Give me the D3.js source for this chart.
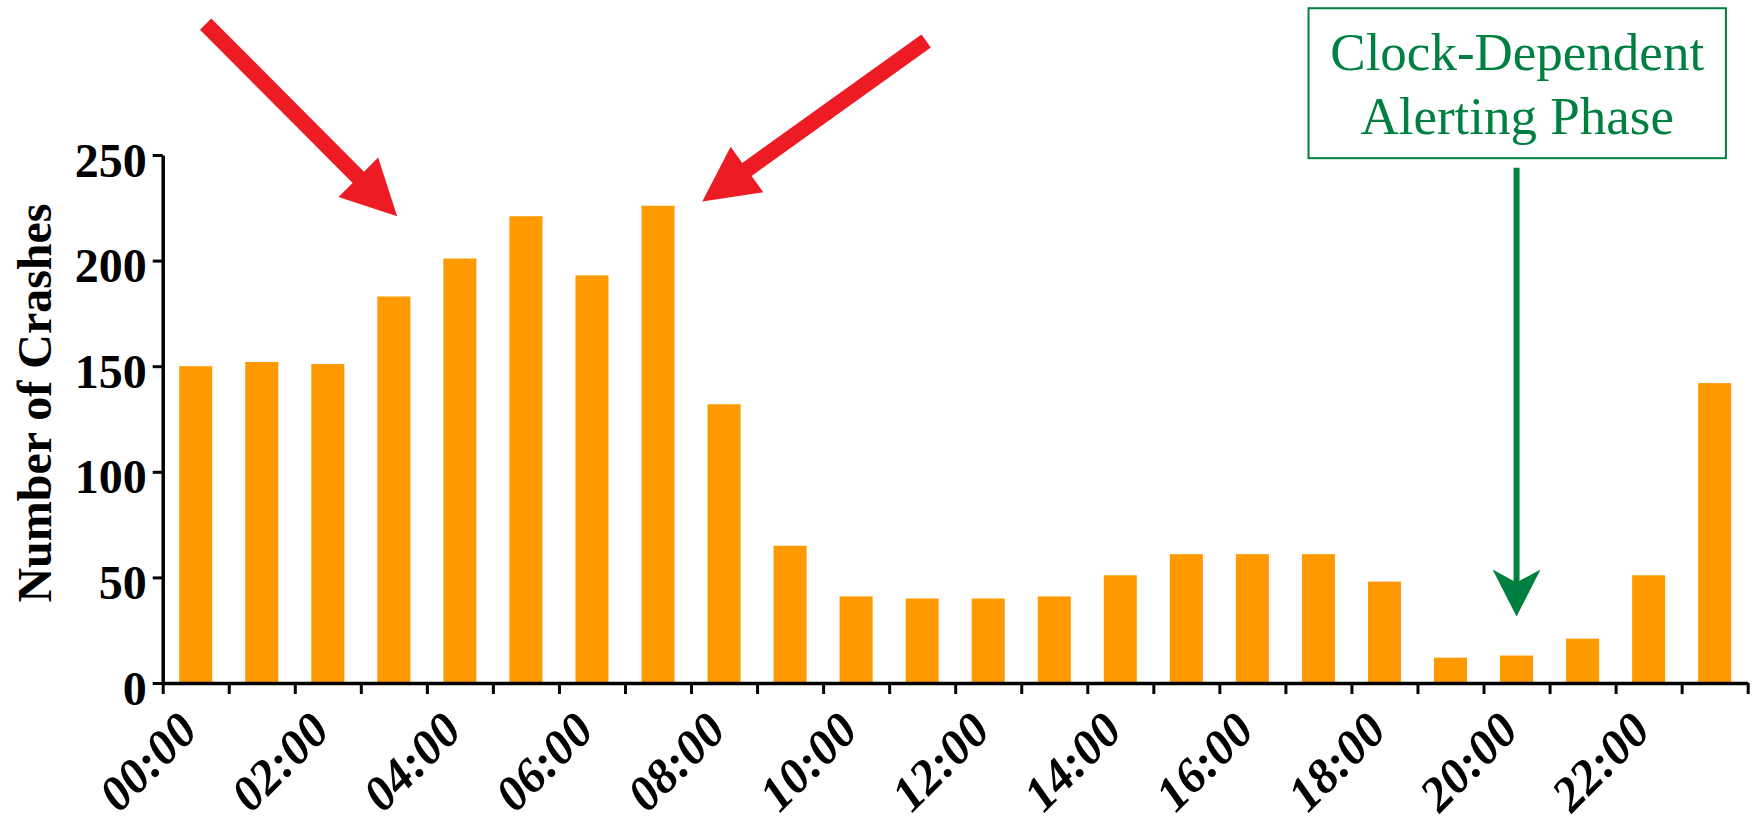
<!DOCTYPE html>
<html>
<head>
<meta charset="utf-8">
<script src="https://cdn.jsdelivr.net/npm/d3@7"></script>
<style>
  html, body { margin: 0; padding: 0; background: #fff; }
  svg { display: block; }
</style>
</head>
<body>
<script>
// Crashes by hour of day
const hours = ["00:00","01:00","02:00","03:00","04:00","05:00","06:00","07:00",
               "08:00","09:00","10:00","11:00","12:00","13:00","14:00","15:00",
               "16:00","17:00","18:00","19:00","20:00","21:00","22:00","23:00"];
const crashes = [150, 152, 151, 183, 201, 221, 193, 226,
                 132, 65, 41, 40, 40, 41, 51, 61,
                 61, 61, 48, 12, 13, 21, 51, 142];
const yTicks = [0, 50, 100, 150, 200, 250];
const xTickLabels = ["00:00","02:00","04:00","06:00","08:00","10:00",
                     "12:00","14:00","16:00","18:00","20:00","22:00"];
const yTitle = "Number of Crashes";
const noteLines = ["Clock-Dependent", "Alerting Phase"];

// Annotation anchors, in (hour, crashes) units
const redArrows = [
  { from: [0.65, 312], to: [3.55, 221] },
  { from: [11.56, 304], to: [8.17, 228] }
];
const greenArrow = { hour: 20.5, from: 244, to: 31.5 };
const noteBox = { x0: 17.35, x1: 23.67, y0: 319.5, y1: 248.5 };

const W = 1754, H = 821;
const plotLeft = 162.7, plotRight = 1747.7, plotTop = 155, plotBottom = 683;

const ORANGE = "#FF9900", RED = "#ED1C24", GREEN = "#008040";
const SERIF = "'Liberation Serif', 'Times New Roman', Times, serif";

const svg = d3.select("body").append("svg")
  .attr("width", W).attr("height", H)
  .attr("viewBox", `0 0 ${W} ${H}`);

const x = d3.scaleBand().domain(hours).range([plotLeft, plotRight])
  .paddingInner(0.5).paddingOuter(0.25);
const xPos = d3.scaleLinear().domain([0, 24]).range([plotLeft, plotRight]);
const y = d3.scaleLinear().domain([0, 250]).range([plotBottom, plotTop]);

// Bars
svg.append("g").selectAll("rect")
  .data(hours.map((h, i) => ({ h, v: crashes[i] })))
  .join("rect")
  .attr("x", d => x(d.h))
  .attr("y", d => y(d.v))
  .attr("width", x.bandwidth())
  .attr("height", d => y(0) - y(d.v))
  .attr("fill", ORANGE);

// X axis: ticks between the hour categories
const xAxis = svg.append("g")
  .attr("transform", `translate(0,${plotBottom})`)
  .call(d3.axisBottom(xPos).tickValues(d3.range(0, 25)).tickSize(11)
    .tickSizeOuter(0).tickFormat(""));
xAxis.select(".domain").attr("stroke", "#000").attr("stroke-width", 3.5);
xAxis.selectAll(".tick line").attr("stroke", "#000").attr("stroke-width", 3);

// X labels, rotated
svg.append("g").selectAll("text")
  .data(xTickLabels)
  .join("text")
  .attr("transform", d => `translate(${x(d) + x.bandwidth() / 2 + 4},${plotBottom + 50}) rotate(-45)`)
  .attr("text-anchor", "end")
  .attr("font-family", SERIF)
  .attr("font-weight", "bold")
  .attr("font-style", "italic")
  .attr("font-size", 49)
  .attr("fill", "#000")
  .text(d => d);

// Y axis
const yAxis = svg.append("g")
  .attr("transform", `translate(${plotLeft},0)`)
  .call(d3.axisLeft(y).tickValues(yTicks).tickSize(10).tickSizeOuter(0).tickPadding(6));
yAxis.select(".domain").attr("stroke", "#000").attr("stroke-width", 3.5);
yAxis.selectAll(".tick line").attr("stroke", "#000").attr("stroke-width", 3);
yAxis.selectAll(".tick text")
  .attr("font-family", SERIF)
  .attr("font-weight", "bold")
  .attr("font-size", 48)
  .attr("fill", "#000")
  .attr("dy", "0.44em");

// Y title
svg.append("text")
  .attr("transform", `translate(51,${(plotTop + plotBottom) / 2 - 16}) rotate(-90)`)
  .attr("text-anchor", "middle")
  .attr("font-family", SERIF)
  .attr("font-weight", "bold")
  .attr("font-size", 48)
  .attr("fill", "#000")
  .text(yTitle);

// Block arrow polygon from tail to tip
function arrowPoints(x0, y0, x1, y1, shaftW, headW, headL) {
  const dx = x1 - x0, dy = y1 - y0, len = Math.hypot(dx, dy);
  const ux = dx / len, uy = dy / len, nx = -uy, ny = ux;
  const bx = x1 - ux * headL, by = y1 - uy * headL;
  const p = [
    [x0 + nx * shaftW / 2, y0 + ny * shaftW / 2],
    [bx + nx * shaftW / 2, by + ny * shaftW / 2],
    [bx + nx * headW / 2, by + ny * headW / 2],
    [x1, y1],
    [bx - nx * headW / 2, by - ny * headW / 2],
    [bx - nx * shaftW / 2, by - ny * shaftW / 2],
    [x0 - nx * shaftW / 2, y0 - ny * shaftW / 2]
  ];
  return p.map(q => q.join(",")).join(" ");
}

svg.append("g").selectAll("polygon")
  .data(redArrows)
  .join("polygon")
  .attr("points", d => arrowPoints(xPos(d.from[0]), y(d.from[1]), xPos(d.to[0]), y(d.to[1]), 16, 56, 55))
  .attr("fill", RED);

// Annotation box and label
const bx0 = xPos(noteBox.x0), bx1 = xPos(noteBox.x1);
const by0 = y(noteBox.y0), by1 = y(noteBox.y1);
svg.append("rect")
  .attr("x", bx0).attr("y", by0)
  .attr("width", bx1 - bx0).attr("height", by1 - by0)
  .attr("fill", "none").attr("stroke", GREEN).attr("stroke-width", 2);

svg.append("g").selectAll("text")
  .data(noteLines)
  .join("text")
  .attr("x", (bx0 + bx1) / 2)
  .attr("y", (d, i) => by0 + 62 + i * 63.5)
  .attr("text-anchor", "middle")
  .attr("font-family", SERIF)
  .attr("font-size", 53)
  .attr("fill", GREEN)
  .text(d => d);

// Green pointer with notched head
{
  const gx = xPos(greenArrow.hour);
  const gy0 = y(greenArrow.from), tip = y(greenArrow.to);
  const headL = 47, headW = 48, notch = 13;
  svg.append("line")
    .attr("x1", gx).attr("x2", gx)
    .attr("y1", gy0).attr("y2", tip - headL + notch + 2)
    .attr("stroke", GREEN).attr("stroke-width", 6);
  svg.append("polygon")
    .attr("points", [
      [gx, tip],
      [gx - headW / 2, tip - headL],
      [gx, tip - headL + notch],
      [gx + headW / 2, tip - headL]
    ].map(q => q.join(",")).join(" "))
    .attr("fill", GREEN);
}
</script>
</body>
</html>
